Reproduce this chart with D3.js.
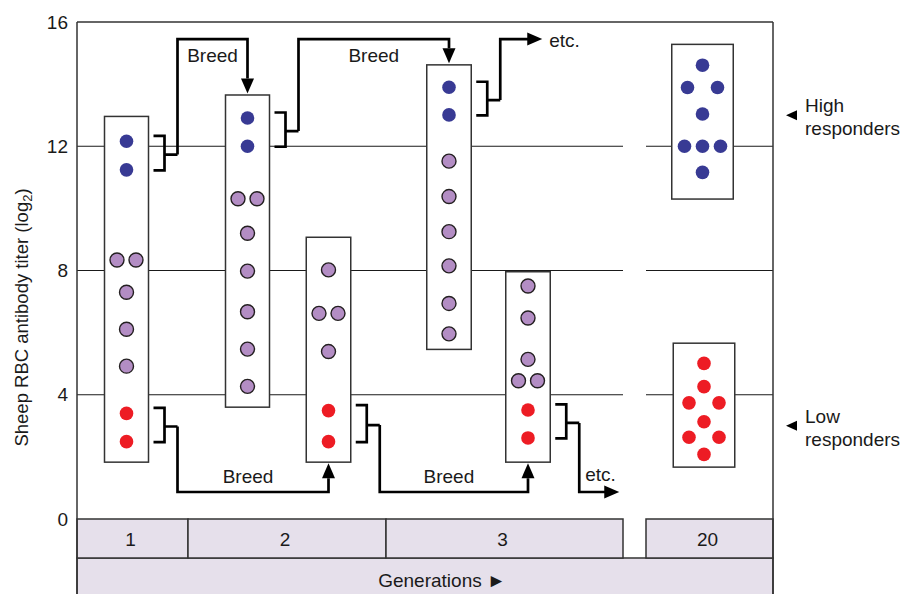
<!DOCTYPE html>
<html><head><meta charset="utf-8">
<script src="https://cdn.jsdelivr.net/npm/d3@7"></script>
<style>
body{margin:0;background:#fff}
text{font-family:"Liberation Sans",Arial,Helvetica,sans-serif;fill:#1a1a1a}
</style>
</head><body>
<svg id="chart" width="909" height="594"></svg>
<script>
// ---------------- DATA ----------------
const generations = ["1", "2", "3", "20"];
const yTicks = [0, 4, 8, 12, 16];
const gridValues = [4, 8, 12];

const boxIds        = ["g1", "g2a", "g2b", "g3a", "g3b", "g20h", "g20l"];
const boxGeneration = ["1", "2", "2", "3", "3", "20", "20"];
const boxTop        = [12.96, 13.65, 9.07, 14.62, 7.96, 15.28, 5.66];
const boxBottom     = [1.83, 3.60, 1.83, 5.46, 1.83, 10.30, 1.67];

const titersG1   = [12.16, 11.24, 8.34, 8.34, 7.30, 6.11, 4.92, 3.40, 2.49];
const groupsG1   = ["high", "high", "mid", "mid", "mid", "mid", "mid", "low", "low"];
const titersG2a  = [12.91, 12.0, 10.31, 10.31, 9.20, 7.98, 6.67, 5.47, 4.27];
const groupsG2a  = ["high", "high", "mid", "mid", "mid", "mid", "mid", "mid", "mid"];
const titersG2b  = [8.02, 6.62, 6.62, 5.39, 3.49, 2.49];
const groupsG2b  = ["mid", "mid", "mid", "mid", "low", "low"];
const titersG3a  = [13.90, 13.01, 11.52, 10.38, 9.25, 8.15, 6.94, 5.96];
const groupsG3a  = ["high", "high", "mid", "mid", "mid", "mid", "mid", "mid"];
const titersG3b  = [7.50, 6.47, 5.14, 4.45, 4.45, 3.51, 2.61];
const groupsG3b  = ["mid", "mid", "mid", "mid", "mid", "low", "low"];
const titersG20h = [14.61, 13.89, 13.89, 13.04, 12.0, 12.0, 12.0, 11.16];
const groupsG20h = ["high", "high", "high", "high", "high", "high", "high", "high"];
const titersG20l = [5.01, 4.26, 3.74, 3.74, 3.13, 2.63, 2.63, 2.08];
const groupsG20l = ["low", "low", "low", "low", "low", "low", "low", "low"];

const linkFrom  = ["g1", "g2a", "g3a", "g1", "g2b", "g3b"];
const linkGroup = ["high", "high", "high", "low", "low", "low"];
const linkTo    = ["g2a", "g3a", null, "g2b", "g3b", null];
const linkLabel = ["Breed", "Breed", "etc.", "Breed", "Breed", "etc."];
const routeLevel = {high: 15.45, low: 0.87};

const legendLines  = [["High", "responders"], ["Low", "responders"]];
const legendValues = [13.0, 3.0];

const yTitle = "Sheep RBC antibody titer (log";
const xTitle = "Generations \u25BA";

// ---------------- LAYOUT ----------------
const W = 909, H = 594;
const plotL = 77, plotR = 773, plotT = 22, plotB = 519;
const bandMid = 558;
const gapL = 623, gapR = 646;
const genCells = {"1": [77, 188], "2": [188, 386], "3": [386, 623], "20": [646, 773]};
const colLayout = {
  g1: {cx: 126.5, w: 44}, g2a: {cx: 247.5, w: 44}, g2b: {cx: 328.5, w: 44.5},
  g3a: {cx: 449, w: 44.5}, g3b: {cx: 528, w: 44.5},
  g20h: {cx: 702.5, w: 61.5}, g20l: {cx: 704, w: 61.5}
};
const colors = {high: "#383a94", low: "#ed1c24", mid: "#b38dc4", ink: "#1a1a1a", band: "#e6e0eb"};

const titerSets = {g1: titersG1, g2a: titersG2a, g2b: titersG2b, g3a: titersG3a, g3b: titersG3b, g20h: titersG20h, g20l: titersG20l};
const groupSets = {g1: groupsG1, g2a: groupsG2a, g2b: groupsG2b, g3a: groupsG3a, g3b: groupsG3b, g20h: groupsG20h, g20l: groupsG20l};

const svg = d3.select("#chart");
const y = d3.scaleLinear().domain([0, 16]).range([plotB, plotT]);

// generation band
const gband = svg.append("g");
gband.append("rect").attr("x", plotL).attr("y", bandMid).attr("width", plotR - plotL).attr("height", H - bandMid + 5)
  .attr("fill", colors.band).attr("stroke", "#333").attr("stroke-width", 1.5);
generations.forEach(g => {
  const [a, b] = genCells[g];
  gband.append("rect").attr("x", a).attr("y", plotB).attr("width", b - a).attr("height", bandMid - plotB)
    .attr("fill", colors.band).attr("stroke", "#333").attr("stroke-width", 1.5);
  gband.append("text").attr("x", (a + b) / 2 - 2).attr("y", (plotB + bandMid) / 2 + 1)
    .attr("text-anchor", "middle").attr("dominant-baseline", "central").attr("font-size", 19).text(g);
});
gband.append("text").attr("x", 442).attr("y", 586.5).attr("text-anchor", "middle").attr("font-size", 19).text(xTitle);

// gridlines
const grid = svg.append("g").attr("stroke", colors.ink).attr("stroke-width", 1.1);
gridValues.forEach(v => {
  grid.append("line").attr("x1", plotL).attr("x2", gapL).attr("y1", y(v)).attr("y2", y(v));
  grid.append("line").attr("x1", gapR).attr("x2", plotR).attr("y1", y(v)).attr("y2", y(v));
});

// frame
const frame = svg.append("g").attr("stroke", "#333").attr("stroke-width", 1.5).attr("fill", "none");
frame.append("line").attr("x1", plotL).attr("x2", plotR).attr("y1", plotT).attr("y2", plotT);
frame.append("line").attr("x1", plotL).attr("x2", plotL).attr("y1", plotT).attr("y2", H);
frame.append("line").attr("x1", plotR).attr("x2", plotR).attr("y1", plotT).attr("y2", H);

// y axis labels
const yAxis = d3.axisLeft(y).tickValues(yTicks).tickSize(0).tickPadding(9).tickFormat(d3.format("d"));
const ya = svg.append("g").attr("transform", `translate(${plotL},0)`).call(yAxis);
ya.select(".domain").remove();
ya.selectAll("text").attr("font-size", 19).attr("fill", colors.ink).attr("font-family", "Liberation Sans, Arial, sans-serif");

const yt = svg.append("text").attr("transform", `translate(28,${(plotT + plotB) / 2 + 47}) rotate(-90)`)
  .attr("text-anchor", "middle").attr("font-size", 18.5);
yt.append("tspan").text(yTitle);
yt.append("tspan").attr("font-size", 13).attr("dy", 4).text("2");
yt.append("tspan").attr("dy", -4).text(")");

// boxes
const boxes = boxIds.map((id, i) => ({id, gen: boxGeneration[i], top: boxTop[i], bottom: boxBottom[i], ...colLayout[id]}));
svg.append("g").selectAll("rect").data(boxes).join("rect")
  .attr("x", d => d.cx - d.w / 2).attr("width", d => d.w)
  .attr("y", d => y(d.top)).attr("height", d => y(d.bottom) - y(d.top))
  .attr("fill", "#fff").attr("stroke", "#333").attr("stroke-width", 1.5);

// dots
const dots = [];
boxes.forEach(b => {
  const t = titerSets[b.id], g = groupSets[b.id];
  const wide = b.w > 55;
  const byVal = d3.group(t.map((v, i) => ({v, g: g[i], box: b})), d => d.v);
  byVal.forEach(arr => {
    const n = arr.length;
    const sp = wide ? (n === 2 ? 30 : 18) : 19;
    arr.forEach((d, i) => { d.x = b.cx + (i - (n - 1) / 2) * sp; dots.push(d); });
  });
});
svg.append("g").selectAll("circle").data(dots).join("circle")
  .attr("cx", d => d.x).attr("cy", d => y(d.v))
  .attr("r", d => d.g === "mid" ? 7 : 6.8)
  .attr("fill", d => colors[d.g])
  .attr("stroke", d => d.g === "mid" ? "#231f20" : "none")
  .attr("stroke-width", 1.4);

// brackets and breeding arrows
const boxById = Object.fromEntries(boxes.map(b => [b.id, b]));
const arrows = svg.append("g");
const lw = 2.7;
linkFrom.forEach((fid, i) => {
  const b = boxById[fid];
  const grp = linkGroup[i];
  const vals = titerSets[fid].filter((v, k) => groupSets[fid][k] === grp);
  const yTop = y(d3.max(vals)) - 5.5, yBot = y(d3.min(vals)) + 0.5;
  const right = b.cx + b.w / 2;
  const x0 = right + 5, xv = right + 16, xr = right + 29;
  const ym = (yTop + yBot) / 2 + 1.5;
  arrows.append("path").attr("d", `M${x0},${yTop}H${xv}V${yBot}H${x0}M${xv},${ym}H${xr}`)
    .attr("fill", "none").attr("stroke", "#000").attr("stroke-width", lw);
  const ry = y(routeLevel[grp]);
  const to = linkTo[i];
  if (to) {
    const tb = boxById[to];
    const tx = tb.cx;
    const tipY = grp === "high" ? y(tb.top) - 1.5 : y(tb.bottom) + 1;
    const dir = grp === "high" ? 1 : -1;
    const baseY = tipY - dir * 15;
    arrows.append("path").attr("d", `M${xr},${ym}V${ry}H${tx}V${baseY}`)
      .attr("fill", "none").attr("stroke", "#000").attr("stroke-width", lw);
    arrows.append("path").attr("d", `M${tx - 6.5},${baseY}L${tx + 6.5},${baseY}L${tx},${tipY}Z`).attr("fill", "#000");
    const lx = grp === "high" ? (xr + tx) / 2 : (xr + tx) / 2 - 5;
    const ly = grp === "high" ? ry + 23 : ry - 8.5;
    arrows.append("text").attr("x", lx).attr("y", ly).attr("text-anchor", "middle").attr("font-size", 19).text(linkLabel[i]);
  } else {
    const tipX = grp === "high" ? xr + 42 : xr + 40;
    arrows.append("path").attr("d", `M${xr},${ym}V${ry}H${tipX - 14}`)
      .attr("fill", "none").attr("stroke", "#000").attr("stroke-width", lw);
    arrows.append("path").attr("d", `M${tipX - 15},${ry - 6.5}L${tipX - 15},${ry + 6.5}L${tipX},${ry}Z`).attr("fill", "#000");
    if (grp === "high") {
      arrows.append("text").attr("x", tipX + 7).attr("y", ry + 7.5).attr("font-size", 19).text(linkLabel[i]);
    } else {
      arrows.append("text").attr("x", xr + 6).attr("y", ry - 11).attr("font-size", 19).text(linkLabel[i]);
    }
  }
});

// legend
const leg = svg.append("g");
legendValues.forEach((v, i) => {
  const cy = y(v);
  leg.append("path").attr("d", `M786,${cy}L797,${cy - 5}L797,${cy + 5}Z`).attr("fill", "#000");
  leg.append("text").attr("x", 805).attr("y", cy - 3).attr("font-size", 19).text(legendLines[i][0]);
  leg.append("text").attr("x", 805).attr("y", cy + 20).attr("font-size", 19).text(legendLines[i][1]);
});
</script>
</body></html>
